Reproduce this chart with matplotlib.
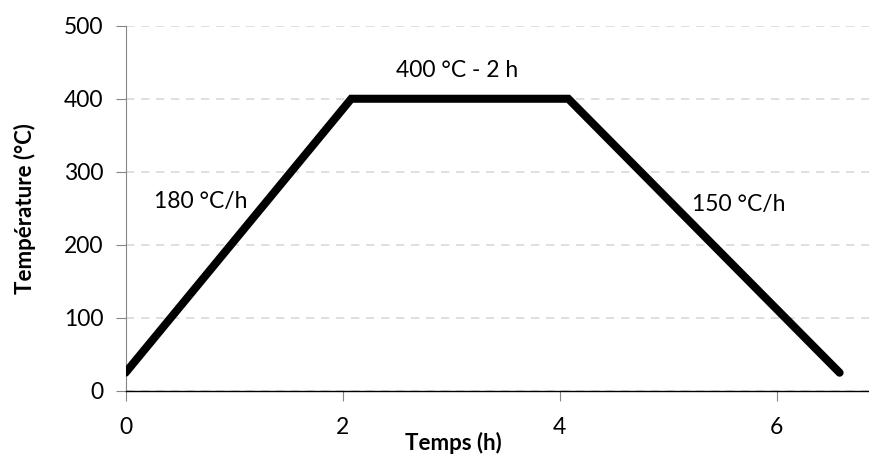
import matplotlib.pyplot as plt

plt.rcParams['font.family'] = ['Lato', 'DejaVu Sans']

# cycle thermique
temps_h = [0, 2.08, 4.08, 6.58]
temperature = [25, 400, 400, 25]
x_ticks = [0, 2, 4, 6]
y_ticks = [0, 100, 200, 300, 400, 500]
etiquettes = ["180 °C/h", "400 °C - 2 h", "150 °C/h"]
pos_etiquettes = [(0.69, 259), (3.06, 439), (5.65, 255)]

fig = plt.figure(figsize=(8.7, 4.54), dpi=100)
ax = fig.add_axes([0.1443, 0.1388, 0.8557, 0.8046])

ax.plot(temps_h, temperature, color="black", linewidth=5.8,
        solid_capstyle="round", solid_joinstyle="miter", zorder=3)

ax.set_xlim(0, 6.86)
ax.set_ylim(0, 500)
ax.set_xticks(x_ticks)
ax.set_yticks(y_ticks)
ax.tick_params(labelsize=16.5, colors="#000000", length=7, width=0.8)
ax.tick_params(axis="y", color="#868686", pad=9)
ax.tick_params(axis="x", color="#868686", pad=12)

ax.yaxis.grid(True, color="#d9d9d9", linestyle=(0, (5, 4)), linewidth=1.2)
ax.set_axisbelow(True)

for s in ["top", "right"]:
    ax.spines[s].set_visible(False)
ax.spines["left"].set_color("#868686")
ax.spines["bottom"].set_color("black")
ax.spines["bottom"].set_linewidth(1.0)

ax.set_ylabel("Température (°C)", fontsize=16, fontweight="bold")
ax.yaxis.set_label_coords(-0.12, 0.5)
ax.set_xlabel("Temps (h)", fontsize=16, fontweight="bold")
ax.xaxis.set_label_coords((453 - 125.5) / 744.5, -0.112)

for txt, (x, y) in zip(etiquettes, pos_etiquettes):
    ax.text(x, y, txt, fontsize=16.5, ha="center", va="center")

fig.savefig("out.png", dpi=100)
